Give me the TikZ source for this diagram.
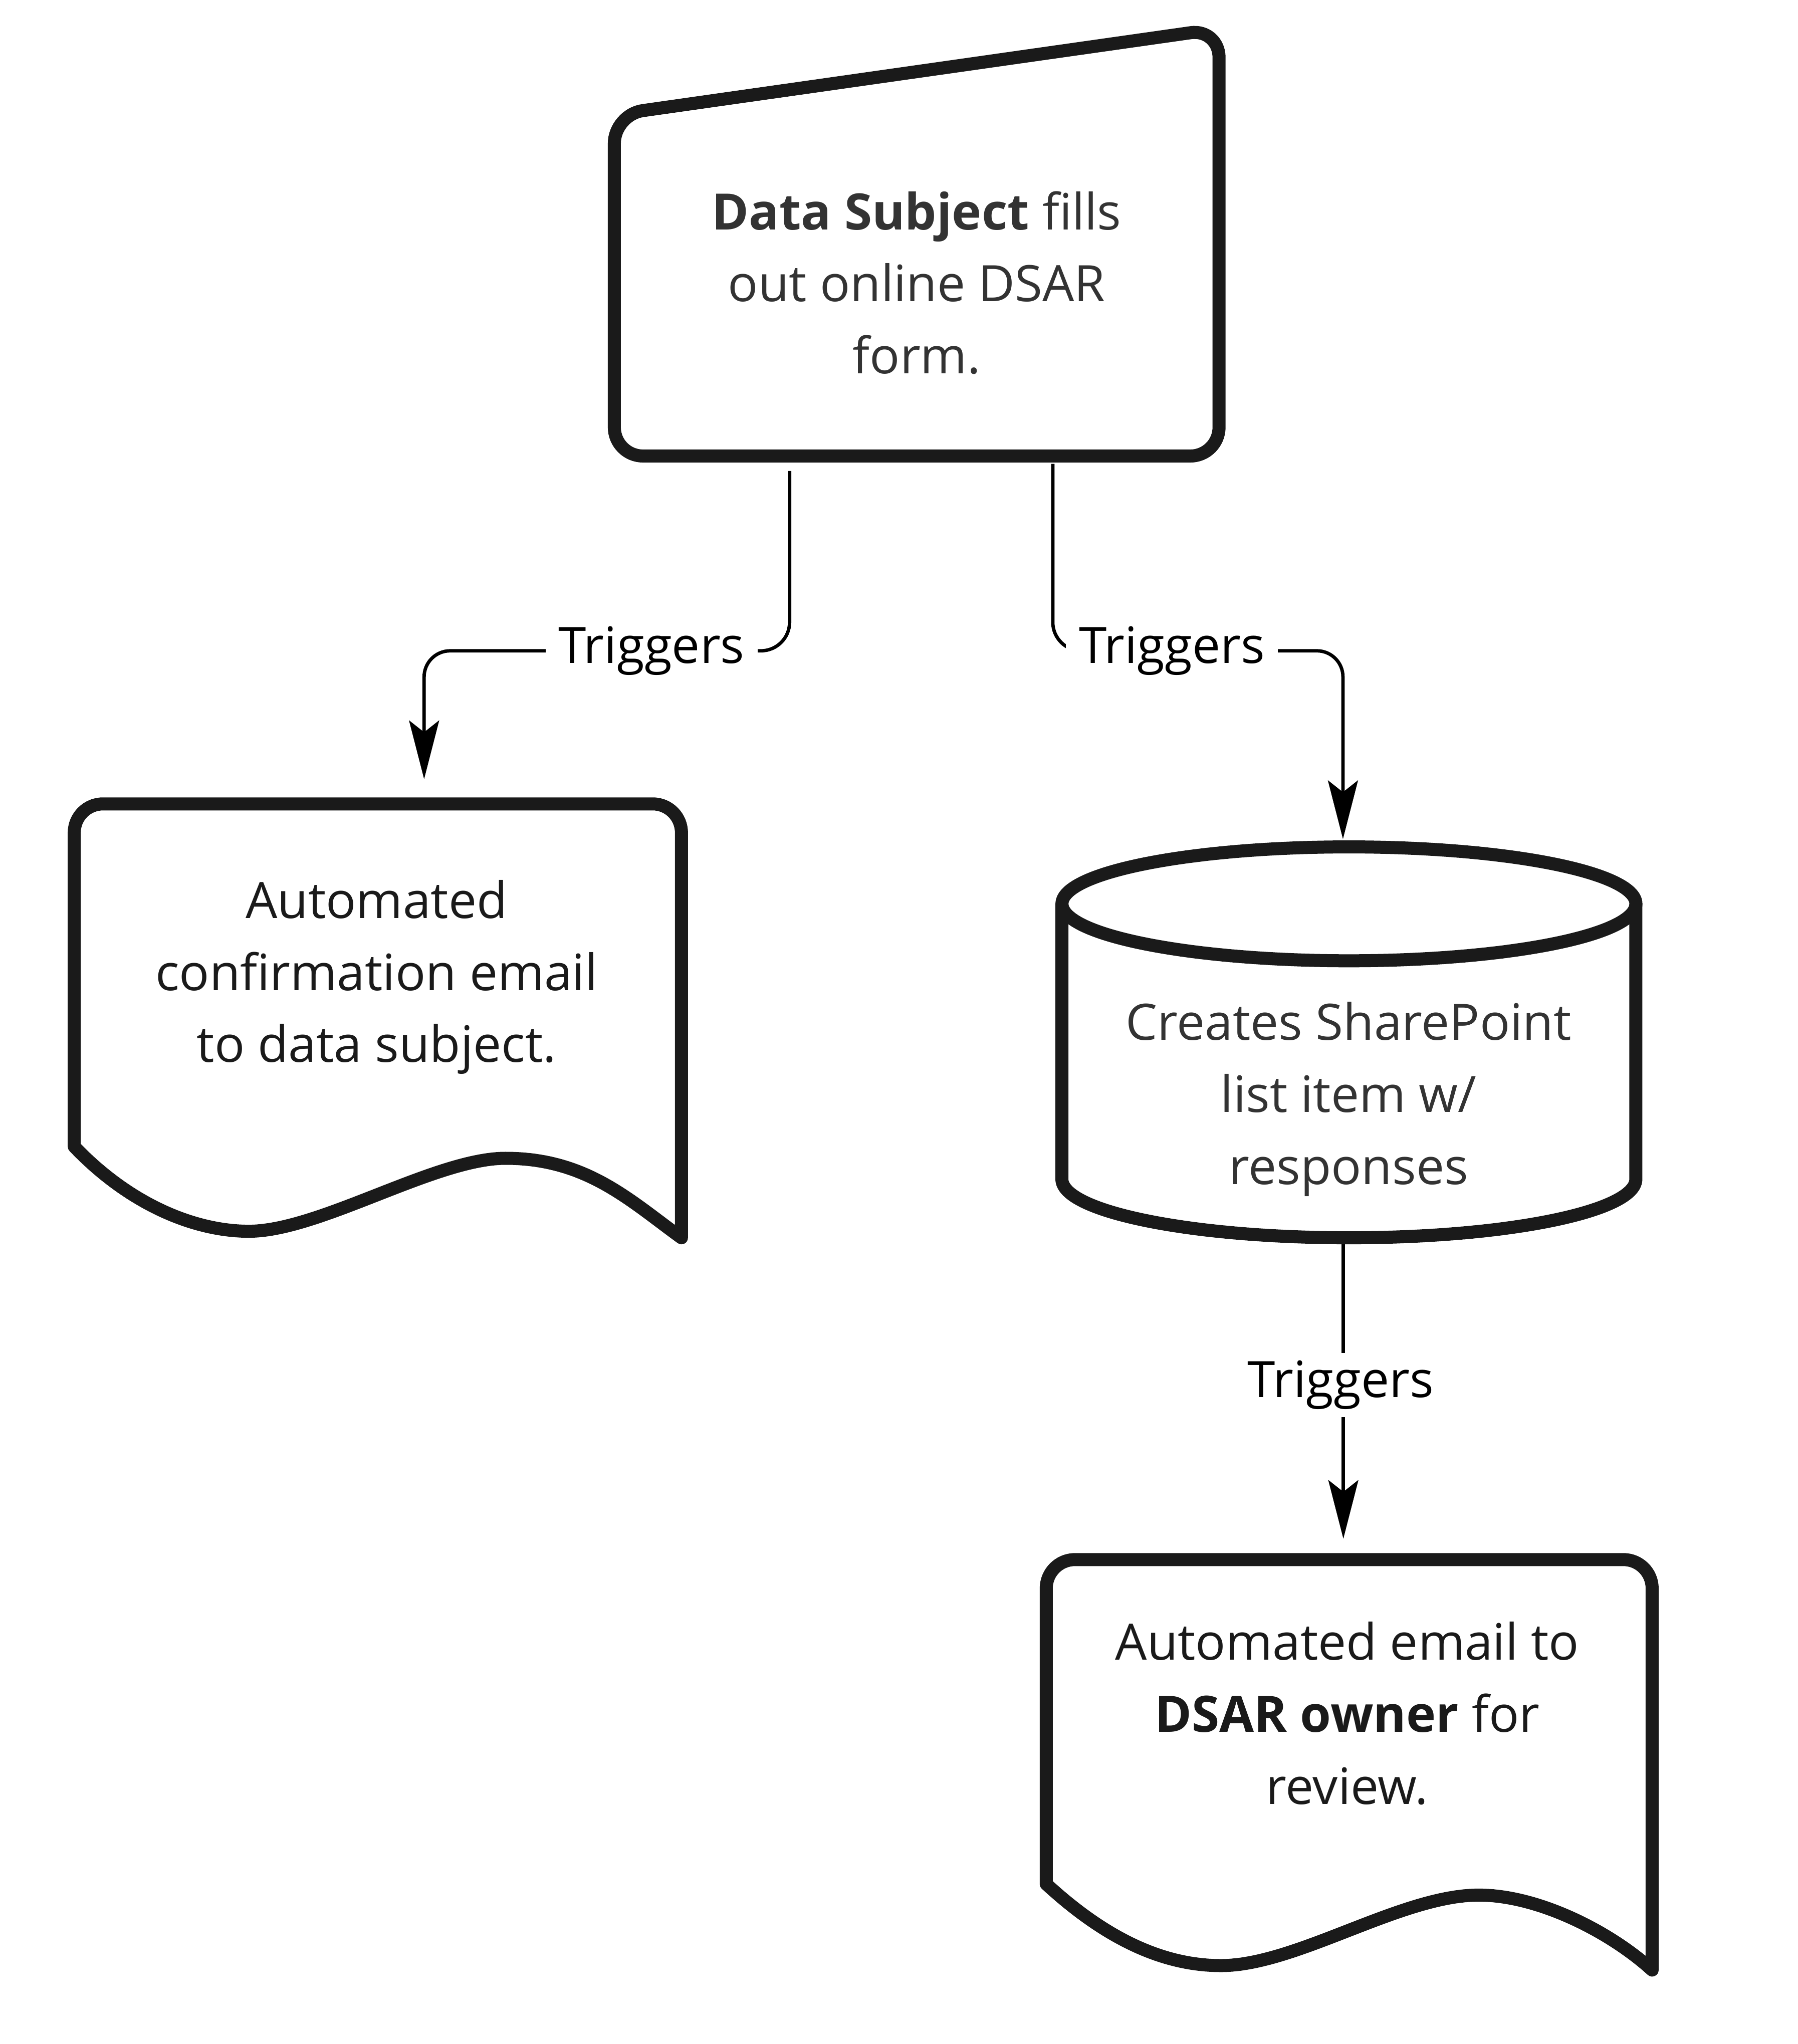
\documentclass[tikz,border=0pt]{standalone}
\usepackage{fontspec}
\setmainfont{Open Sans}
\usetikzlibrary{arrows.meta}
\pgfdeclarelayer{background}
\pgfsetlayers{background,main}
\definecolor{stroke}{HTML}{1A1A1A}
\definecolor{txtgray}{HTML}{333333}
\begin{document}
\begin{tikzpicture}[x=1pt,y=-1pt,
  shapeline/.style={draw=stroke, line width=10pt, line join=round, line cap=round},
  conn/.style={draw=black, line width=2.6pt},
  arr/.style={-{Stealth[length=45pt,width=23pt,inset=9pt]}},
  boxtext/.style={align=center, font=\fontsize{38.5pt}{55.3pt}\selectfont, inner sep=0pt},
  lab/.style={fill=white, font=\fontsize{38.5pt}{55.3pt}\selectfont, text=black, inner xsep=10pt, inner ysep=6pt}]
\useasboundingbox (0,0) rectangle (1379.6,1568.8);

% --- shapes ---
\draw[shapeline, rounded corners=22pt] (471.5,88) -- (935.6,22) -- (935.6,350) -- (471.5,350) -- cycle;
\node[boxtext, text=txtgray] (form) at (703.5,217) {\textbf{Data Subject} fills\\out online DSAR\\form.};

\draw[shapeline] (57,880) [rounded corners=22pt] -- (57,617) -- (523,617) -- (523,850) [sharp corners] -- (523,950)
  .. controls (483,921) and (450,889) .. (388,889)
  .. controls (334,889) and (245,945) .. (191,945)
  .. controls (150,945) and (100,925) .. cycle;
\node[boxtext, text=stroke] (conf) at (289,750) {Automated\\confirmation email\\to data subject.};

\draw[shapeline] (815,694) -- (815,905)
  .. controls (815,929.85) and (913.7,950) .. (1035.3,950)
  .. controls (1156.9,950) and (1255.5,929.85) .. (1255.5,905) -- (1255.5,694);
\draw[shapeline] (1035.3,693.7) ellipse [x radius=220.25, y radius=43.7];
\node[boxtext, text=txtgray] (list) at (1035,843.6) {Creates SharePoint\\list item w/\\responses};

\draw[shapeline] (803,1446) [rounded corners=22pt] -- (803,1197) -- (1268,1197) -- (1268,1400) [sharp corners] -- (1268,1512)
  .. controls (1235,1482) and (1180,1454.5) .. (1135,1454.5)
  .. controls (1075,1454.5) and (995,1508.6) .. (937,1508.6)
  .. controls (885,1508.6) and (840,1480) .. cycle;
\node[boxtext, text=stroke] (owner) at (1034,1315) {Automated email to\\\textbf{DSAR owner} for\\review.};

% --- labels ---
\node[lab] (lab1) at (500,499.5) {Triggers};
\node[lab] (lab2) at (899.5,499.5) {Triggers};
\node[lab] (lab3) at (1029,1063) {Triggers};

% --- connector end points ---
\coordinate (s1) at (606,361.5);
\coordinate (e1) at (325.5,598);
\coordinate (s2) at (808,356);
\coordinate (e2) at (1030.7,644);
\coordinate (s3) at (1031,948);
\coordinate (e3) at (1031,1181);

\begin{pgfonlayer}{background}
\fill[white] (0,0) rectangle (1379.6,1568.8);
\draw[conn, rounded corners=22pt] (s1) |- (lab1.center);
\draw[conn, arr, rounded corners=20pt] (lab1.center) -| (e1);
\draw[conn, rounded corners=22pt] (s2) |- (lab2.center);
\draw[conn, arr, rounded corners=20pt] (lab2.center) -| (e2);
\draw[conn] (s3) -- (s3 |- lab3.center);
\draw[conn, arr] (s3 |- lab3.center) -- (e3);
\end{pgfonlayer}
\end{tikzpicture}
\end{document}
